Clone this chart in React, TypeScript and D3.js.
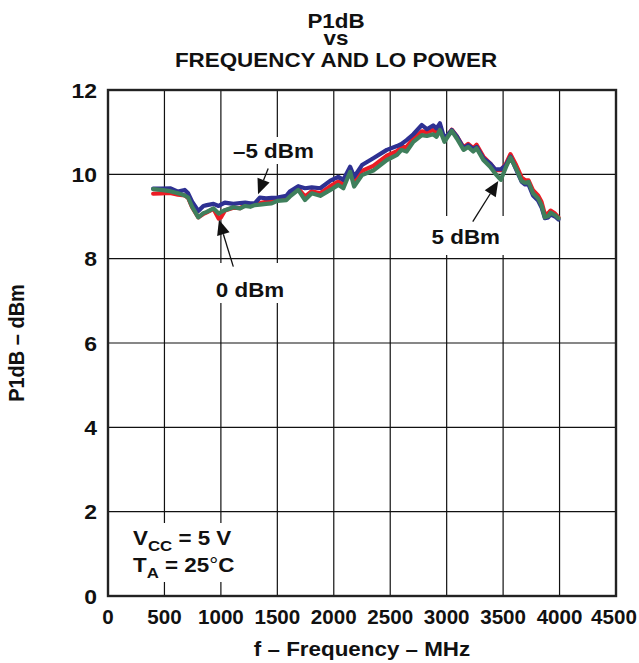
import React from 'react';
import * as d3 from 'd3';

// frequency points (MHz) shared by the three LO power traces
const freqs = [
  400, 470, 550, 620, 680, 710, 745, 800, 845, 875, 935, 980, 1000, 1035, 1110, 1170,
  1215, 1260, 1300, 1345, 1400, 1450, 1500, 1580, 1610, 1685, 1745, 1805, 1880, 1970,
  2040, 2085, 2145, 2180, 2250, 2350, 2470, 2560, 2600, 2645, 2705, 2780, 2825, 2880,
  2910, 2940, 2980, 3045, 3090, 3150, 3190, 3235, 3265, 3325, 3385, 3430, 3480, 3525,
  3565, 3615, 3665, 3695, 3725, 3765, 3810, 3840, 3870, 3900, 3920, 3960, 3990
];

// P1dB (dBm), LO = 0 dBm
const lo0 = [
  9.54, 9.55, 9.56, 9.52, 9.50, 9.44, 9.22, 8.98, 9.06, 9.10, 9.18, 8.95, 8.98, 9.14, 9.21, 9.20,
  9.27, 9.27, 9.30, 9.32, 9.35, 9.36, 9.42, 9.44, 9.51, 9.67, 9.47, 9.60, 9.55, 9.72,
  9.83, 9.76, 10.12, 9.82, 10.08, 10.20, 10.44, 10.55, 10.64, 10.65, 10.85, 11.02, 11.00, 11.05,
  10.98, 11.12, 10.82, 11.06, 10.90, 10.64, 10.72, 10.62, 10.70, 10.42, 10.26, 10.10, 10.10, 10.25,
  10.48, 10.22, 9.92, 9.86, 9.86, 9.62, 9.50, 9.35, 9.05, 9.08, 9.14, 9.07, 8.98
];

// P1dB (dBm), LO = -5 dBm
const loM5 = [
  9.66, 9.66, 9.67, 9.59, 9.63, 9.55, 9.35, 9.13, 9.25, 9.27, 9.30, 9.25, 9.28, 9.33, 9.30, 9.32,
  9.33, 9.31, 9.31, 9.45, 9.43, 9.44, 9.45, 9.49, 9.59, 9.72, 9.67, 9.69, 9.67, 9.85,
  9.94, 9.87, 10.18, 9.94, 10.22, 10.38, 10.58, 10.67, 10.72, 10.81, 10.95, 11.17, 11.07, 11.16,
  11.09, 11.21, 10.85, 11.05, 10.90, 10.62, 10.69, 10.60, 10.65, 10.38, 10.26, 10.12, 10.12, 10.22,
  10.42, 10.12, 9.82, 9.76, 9.76, 9.50, 9.38, 9.22, 8.96, 8.98, 9.05, 9.00, 8.93
];

// P1dB (dBm), LO = 5 dBm
const lo5 = [
  9.65, 9.63, 9.60, 9.55, 9.50, 9.45, 9.23, 8.98, 9.08, 9.11, 9.19, 9.07, 9.10, 9.15, 9.22, 9.19,
  9.25, 9.23, 9.27, 9.28, 9.30, 9.31, 9.37, 9.39, 9.47, 9.63, 9.39, 9.55, 9.49, 9.63,
  9.75, 9.67, 10.06, 9.71, 9.98, 10.09, 10.34, 10.46, 10.58, 10.54, 10.77, 10.93, 10.91, 10.95,
  10.89, 11.05, 10.77, 11.03, 10.85, 10.58, 10.65, 10.54, 10.62, 10.34, 10.18, 10.02, 9.87, 10.17,
  10.40, 10.14, 9.84, 9.80, 9.82, 9.55, 9.43, 9.27, 8.98, 9.01, 9.09, 9.03, 8.96
];

const xTicks = [0, 500, 1000, 1500, 2000, 2500, 3000, 3500, 4000, 4500];
const yTicks = [0, 2, 4, 6, 8, 10, 12];

const FONT = '"Liberation Sans", Arial, Helvetica, sans-serif';
const SX = 1.12; // the original lettering is a bit wider than Arial

// horizontally stretched text
const T = ({ x, y, anchor = 'start', size = 20, sx = SX, children, ...rest }: any) => (
  <text transform={`translate(${x},${y}) scale(${sx},1)`} textAnchor={anchor}
    fontSize={size} fill="#111" {...rest}>
    {children}
  </text>
);

const App = () => {
  const x = d3.scaleLinear().domain([0, 4500]).range([108, 616]);
  const y = d3.scaleLinear().domain([0, 12]).range([596, 90]);

  const line = d3.line<number>()
    .x((d, i) => x(freqs[i]))
    .y((d) => y(d));

  const series = [
    { values: lo0, color: '#ec1c24' },
    { values: loM5, color: '#2e3192' },
    { values: lo5, color: '#3f7f5c' }
  ];

  // arrow from label (f, v) to the curve (f, v)
  const arrow = (from: number[], to: number[], key: string) => {
    const x0 = x(from[0]), y0 = y(from[1]);
    const x1 = x(to[0]), y1 = y(to[1]);
    const len = Math.hypot(x1 - x0, y1 - y0);
    const ux = (x1 - x0) / len, uy = (y1 - y0) / len;
    const hl = 15, hw = 6.5;
    const bx = x1 - ux * hl, by = y1 - uy * hl;
    const pts = [
      [x1, y1],
      [bx - uy * hw, by + ux * hw],
      [bx + uy * hw, by - ux * hw]
    ];
    return (
      <g key={key}>
        <line x1={x0} y1={y0} x2={bx} y2={by} stroke="#111" strokeWidth={1.3} />
        <polygon points={pts.map((p) => p.join(',')).join(' ')} fill="#111" />
      </g>
    );
  };

  return (
    <svg width={639} height={663} style={{ position: 'absolute', left: 0, top: 0 }}
      fontFamily={FONT} fontWeight="bold">
      <rect width={639} height={663} fill="#fff" />

      {/* title */}
      <T x={336} y={28} anchor="middle">
        <tspan x={0} dy={0}>P1dB</tspan>
        <tspan x={0} dy={17}>vs</tspan>
        <tspan x={0} dy={22}>FREQUENCY AND LO POWER</tspan>
      </T>

      {/* grid */}
      <g stroke="#111" strokeWidth={1.2}>
        {xTicks.map((t) => (
          <line key={'gx' + t} x1={x(t)} x2={x(t)} y1={y(0)} y2={y(12)} />
        ))}
        {yTicks.map((t) => (
          <line key={'gy' + t} x1={x(0)} x2={x(4500)} y1={y(t)} y2={y(t)} />
        ))}
      </g>

      {/* white boxes behind the annotations */}
      <g fill="#fff">
        <rect x={228} y={137} width={90} height={27} />
        <rect x={211} y={263} width={76} height={40} />
        <rect x={427} y={216} width={79} height={39} />
        <rect x={128} y={523} width={108} height={59} />
      </g>

      {/* traces */}
      {series.map((s, i) => (
        <path key={i} d={line(s.values) || ''} fill="none" stroke={s.color}
          strokeWidth={4.2} strokeLinejoin="round" strokeLinecap="round" />
      ))}

      {/* frame */}
      <rect x={x(0)} y={y(12)} width={x(4500) - x(0)} height={y(0) - y(12)}
        fill="none" stroke="#222" strokeWidth={2.4} />

      {/* tick labels */}
      {xTicks.map((t) => (
        <T key={'tx' + t} x={t === 4500 ? x(t) - 2 : x(t)} y={624} anchor="middle" size={20} sx={1.03}>{t}</T>
      ))}
      {yTicks.map((t) => (
        <T key={'ty' + t} x={97} y={y(t) + 7.5} anchor="end" size={20.5}>{t}</T>
      ))}

      {/* axis titles */}
      <T x={362} y={656} anchor="middle">f – Frequency – MHz</T>
      <text transform={`translate(24,${(y(0) + y(12)) / 2}) rotate(-90) scale(1,${SX})`}
        textAnchor="middle" fontSize={20} fill="#111">P1dB – dBm</text>

      {/* annotations */}
      <T x={x(1107)} y={y(10.38)}>–5 dBm</T>
      <T x={x(955)} y={y(7.1)}>0 dBm</T>
      <T x={x(2866)} y={y(8.35)}>5 dBm</T>
      <T x={133} y={545}>
        <tspan>V</tspan>
        <tspan dy={6} fontSize={15}>CC</tspan>
        <tspan dy={-6}> = 5 V</tspan>
      </T>
      <T x={133} y={572}>
        <tspan>T</tspan>
        <tspan dy={6} fontSize={15}>A</tspan>
        <tspan dy={-6}> = 25</tspan>
        <tspan fontWeight="normal">°</tspan>
        <tspan>C</tspan>
      </T>

      {arrow([1419, 10.14], [1329, 9.53], 'a1')}
      {arrow([1110, 7.81], [983, 8.92], 'a2')}
      {arrow([3231, 8.88], [3457, 9.84], 'a3')}
    </svg>
  );
};

export default App;
